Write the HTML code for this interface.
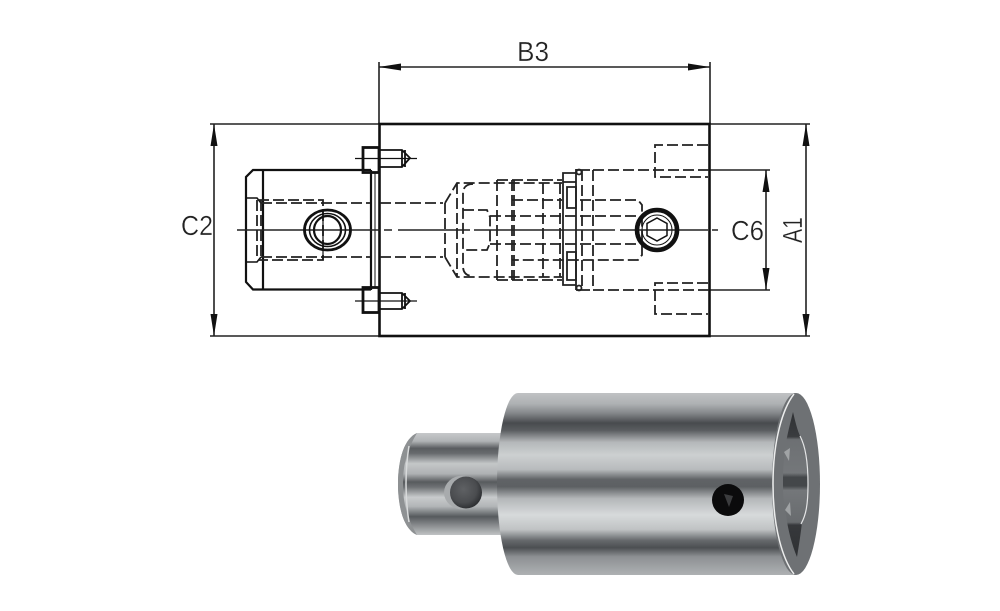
<!DOCTYPE html>
<html><head><meta charset="utf-8"><style>html,body{margin:0;padding:0;background:#fff}svg{display:block}text{font-family:"Liberation Sans",sans-serif;fill:#222;font-size:28px;stroke:#fff;stroke-width:.35}</style></head>
<body><svg width="1000" height="611" viewBox="0 0 1000 611" xmlns="http://www.w3.org/2000/svg">
<defs>
<linearGradient id="big" x1="0" y1="393" x2="0" y2="575" gradientUnits="userSpaceOnUse">
<stop offset="0" stop-color="#c0c2c4"/><stop offset=".06" stop-color="#aeb1b3"/><stop offset=".11" stop-color="#85888b"/><stop offset=".165" stop-color="#484b4e"/><stop offset=".205" stop-color="#5a5d60"/><stop offset=".27" stop-color="#b4b7b9"/><stop offset=".34" stop-color="#cdd0d1"/><stop offset=".42" stop-color="#b8bbbd"/><stop offset=".475" stop-color="#606366"/><stop offset=".515" stop-color="#5d6063"/><stop offset=".58" stop-color="#b4b7b9"/><stop offset=".67" stop-color="#d7dadb"/><stop offset=".75" stop-color="#c0c3c4"/><stop offset=".81" stop-color="#66696c"/><stop offset=".85" stop-color="#4c4f52"/><stop offset=".9" stop-color="#8d9093"/><stop offset="1" stop-color="#aeb1b3"/>
</linearGradient>
<linearGradient id="sh" x1="0" y1="433" x2="0" y2="535" gradientUnits="userSpaceOnUse">
<stop offset="0" stop-color="#c6c8ca"/><stop offset=".08" stop-color="#b0b3b5"/><stop offset=".15" stop-color="#5a5d60"/><stop offset=".2" stop-color="#686b6e"/><stop offset=".3" stop-color="#c4c7c8"/><stop offset=".4" stop-color="#aeb1b3"/><stop offset=".48" stop-color="#585b5e"/><stop offset=".53" stop-color="#6e7174"/><stop offset=".63" stop-color="#c8cbcc"/><stop offset=".72" stop-color="#b2b5b7"/><stop offset=".82" stop-color="#565a5d"/><stop offset=".87" stop-color="#74777a"/><stop offset="1" stop-color="#c0c3c4"/>
</linearGradient>
<radialGradient id="h1" cx=".42" cy=".4" r=".7"><stop offset="0" stop-color="#5f6164"/><stop offset=".6" stop-color="#4a4c4f"/><stop offset="1" stop-color="#212326"/></radialGradient>
<linearGradient id="inner" x1="0" y1="412" x2="0" y2="557" gradientUnits="userSpaceOnUse">
<stop offset="0" stop-color="#2f3134"/><stop offset=".17" stop-color="#3a3c3f"/><stop offset=".19" stop-color="#6d7073"/><stop offset=".42" stop-color="#74777a"/><stop offset=".45" stop-color="#44474a"/><stop offset=".51" stop-color="#44474a"/><stop offset=".54" stop-color="#74777a"/><stop offset=".76" stop-color="#686b6e"/><stop offset=".78" stop-color="#36383b"/><stop offset="1" stop-color="#2f3134"/>
</linearGradient>
</defs>

<!-- dimension lines -->
<g stroke="#222" stroke-width="1.600" fill="none">
<path d="M379 62V124M710 62V124M379 67H710"/>
<path d="M210 124H379M210 336H379M214 124V336"/>
<path d="M710 124H810M710 336H810M806 124V336"/>
<path d="M710 170H770M710 290H770M766 170V290"/>
</g>
<g fill="#111">
<path d="M379 67l22-3.500v7zM710 67l-22-3.500v7z"/>
<path d="M214 124l-3.500 22h7zM214 336l-3.500-22h7z"/>
<path d="M806 124l-3.500 22h7zM806 336l-3.500-22h7z"/>
<path d="M766 170l-3.500 22h7zM766 290l-3.500-22h7z"/>
</g>
<text x="517" y="61" textLength="32" lengthAdjust="spacingAndGlyphs">B3</text>
<text x="181" y="235" textLength="32" lengthAdjust="spacingAndGlyphs">C2</text>
<text x="731" y="240" textLength="33" lengthAdjust="spacingAndGlyphs">C6</text>
<text transform="translate(802 243) rotate(-90)" textLength="26" lengthAdjust="spacingAndGlyphs">A1</text>

<!-- main body -->
<rect x="379.500" y="124" width="330" height="212" fill="none" stroke="#111" stroke-width="2.600"/>

<!-- shank -->
<g fill="none" stroke="#111" stroke-width="2.200">
<path d="M371 170H253L246 177V282L253 289.500H371"/>
<path d="M263 170V289.500M371 170V290"/>
<path d="M246 198H257L261 203M246 262H257L261 257" stroke-width="1.600"/>
</g>
<path d="M375 172V288" stroke="#111" stroke-width="1"/>

<!-- bolts -->
<g fill="none" stroke="#111">
<rect x="363" y="147.500" width="16" height="25" stroke-width="2.800"/>
<rect x="363" y="287.500" width="16" height="25" stroke-width="2.800"/>
<path d="M380 150H402L410 158L402 167H380M402 150V167M405 150V167M380 293H402L410 301L402 309H380M402 293V309M405 293V309" stroke-width="1.800"/>
<path d="M355 158.500H417M355 301H417" stroke-width="1.300"/>
</g>

<!-- hidden lines -->
<g fill="none" stroke="#222" stroke-width="1.800" stroke-dasharray="11 4">
<path d="M258 200H323V260H258"/>
<path d="M261 203H370M380 203H443M261 257H370M380 257H443"/>
<path d="M257 200V260M261 200V260"/>
<path d="M445 203L457 183H562M445 257L457 277H562M445 203V257M457 183V277"/>
<path d="M497 180H562M497 280H562"/>
<path d="M473 184Q463 184 463 194V266Q463 276 473 276"/>
<path d="M463 210H487L490 217V243L487 250H463"/>
<path d="M497 180V280M512 180V280M514 180V280M543 183V277M560 183V277"/>
<path d="M512 200H562M580 200H638L642 205V255L638 260H512"/>
<path d="M490 216H640M490 244H640"/>
<path d="M582 170V290M593 170V290"/>
<path d="M593 170H709M593 290H709"/>
<path d="M708 145H655V177H708"/>
<path d="M708 283H655V314H708"/>
</g>
<g fill="none" stroke="#222" stroke-width="1.800">
<path d="M576 173H563V285H576M576 169V290"/>
<path d="M563 182H576M567 187H576V208H567ZM567 252H576V280H567Z"/>
<path d="M576 170H590M576 290H590"/>
<circle cx="579" cy="172" r="2.500"/><circle cx="579" cy="288" r="2.500"/>
</g>
<path d="M237 230H380M384 230H392M398 230H470M474 230H615M620 230H708M712 230H718" stroke="#222" stroke-width="1.500" fill="none"/>

<!-- hole & socket -->
<g fill="none" stroke="#111">
<ellipse cx="327.500" cy="230" rx="23" ry="20" stroke-width="2.800"/>
<ellipse cx="327.500" cy="230" rx="18" ry="16.500" stroke-width="1.600"/>
<ellipse cx="327.500" cy="230" rx="13.500" ry="14" stroke-width="2.200"/>
<path d="M323 209V260" stroke-width="1.200"/>
<circle cx="657" cy="230" r="20" stroke-width="4.600"/>
<circle cx="657" cy="230" r="15" stroke-width="1"/>
<path d="M657 218L667 223.500V235.500L657 241L647 235.500V223.500Z" stroke-width="1.500"/>
</g>

<!-- 3D image: shank -->
<path d="M417 433H505V535H417C405 530 398 510 398 484C398 458 405 438 417 433Z" fill="url(#sh)"/>
<path d="M417 433C405 438 398 458 398 484C398 510 405 530 417 535C408 520 403 505 403 484C403 463 408 448 417 433Z" fill="#8e9193"/>
<path d="M409 446C405 470 405 498 409 522" stroke="#d8dadb" stroke-width="1.500" fill="none"/>
<ellipse cx="463" cy="492.500" rx="19" ry="17" fill="#a8abad"/>
<circle cx="466" cy="492.500" r="16" fill="url(#h1)"/>
<!-- 3D image: body -->
<path d="M518 393H796V575H518A21 91 0 0 1 518 393Z" fill="url(#big)"/>
<circle cx="728" cy="500" r="16" fill="#0b0b0c"/>
<path d="M724 494L733 496L729 507Z" fill="#3b3c3e"/>
<ellipse cx="796" cy="484" rx="24" ry="91" fill="#6e7174"/>
<path d="M794 394C783 408 773 440 773 484C773 528 783 560 794 574" stroke="#eceded" stroke-width="1.500" fill="none"/>
<path d="M793 412C789 428 786 440 785 450C783 465 783 477 783 484C783 500 785 510 786 515C788 530 792 545 797 557C799 545 801 532 802 522C805 515 808 505 808 484C808 465 806 450 801 438C797 430 795 420 793 412Z" fill="url(#inner)"/>
<path d="M800 436C806 447 808 465 808 484C808 505 806 515 801 524" stroke="#e4e5e6" stroke-width="1.200" fill="none"/>
<path d="M784 452L790 448L789 461ZM785 510L790 502L791 516Z" fill="#a0a3a5"/>
</svg></body></html>
